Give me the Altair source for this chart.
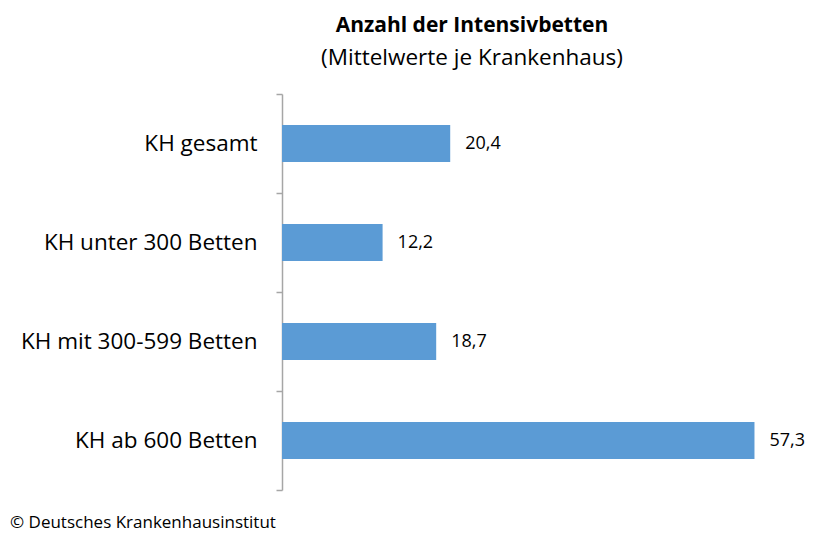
import altair as alt
import pandas as pd

categories = ["KH gesamt", "KH unter 300 Betten", "KH mit 300-599 Betten", "KH ab 600 Betten"]
values = [20.4, 12.2, 18.7, 57.3]
labels = ["20,4", "12,2", "18,7", "57,3"]

df = pd.DataFrame({"cat": categories, "val": values, "lab": labels})

FONT = "Open Sans"

y_enc = alt.Y("cat:N", sort=categories,
              scale=alt.Scale(paddingInner=0, paddingOuter=0),
              axis=alt.Axis(title=None, tickBand="extent", domainColor="#a6a6a6",
                            tickColor="#a6a6a6", tickSize=6, labelFontSize=22.5,
                            labelFont=FONT, labelColor="#000000", labelPadding=19,
                            labelLimit=400, domainWidth=1.5, tickWidth=1.5))
x_enc = alt.X("val:Q", scale=alt.Scale(domain=[0, 57], nice=False), axis=None)

bars = alt.Chart(df).mark_bar(size=37, color="#5b9bd5").encode(x=x_enc, y=y_enc)
text = alt.Chart(df).mark_text(align="left", dx=15, fontSize=18, font=FONT, color="#000000").encode(
    x=x_enc, y=alt.Y("cat:N", sort=categories), text="lab:N")
footer = alt.Chart(df.head(1)).mark_text(align="left", baseline="alphabetic", fontSize=17,
                                          font=FONT, color="#000000").encode(
    x=alt.value(-272), y=alt.value(434), text=alt.value("© Deutsches Krankenhausinstitut"))

chart = alt.layer(bars, text, footer).properties(
    width=470, height=396,
    background="white",
    title=alt.TitleParams(text="Anzahl der Intensivbetten",
                          subtitle="(Mittelwerte je Krankenhaus)",
                          anchor="middle", dx=-45, offset=14,
                          font=FONT, fontSize=21, fontWeight="bold", color="#000000",
                          subtitleFont=FONT, subtitleFontSize=22.5, subtitleColor="#000000",
                          subtitlePadding=11),
    autosize=alt.AutoSizeParams(type="none"),
    padding={"left": 274, "top": 86, "right": 56, "bottom": 43},
).configure_view(stroke="transparent", strokeWidth=0)

chart.save("out.html", embed_options={"renderer": "svg", "actions": False})
